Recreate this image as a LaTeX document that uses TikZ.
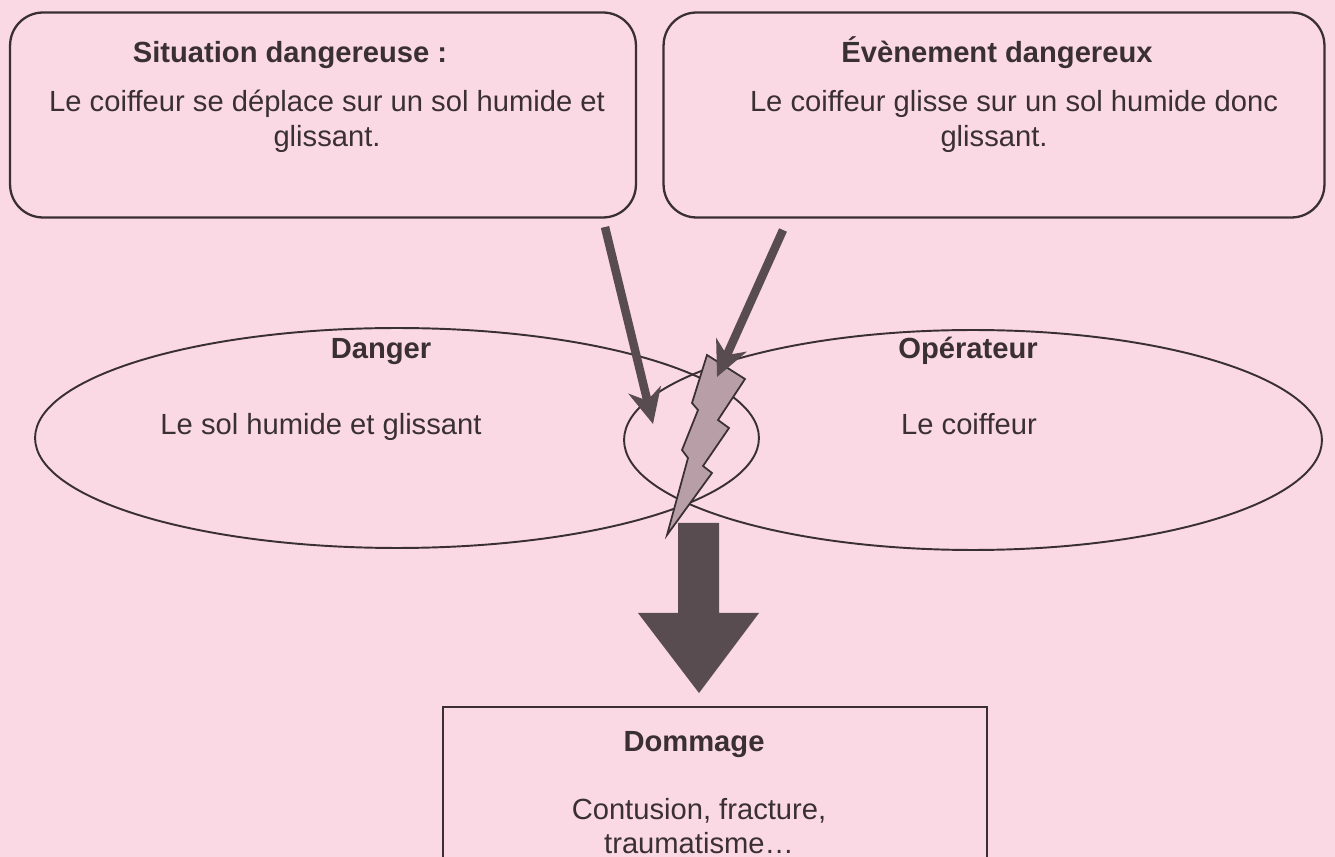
\documentclass[tikz,border=0pt]{standalone}
\usepackage{fontspec}
\setmainfont{Liberation Sans}
\usetikzlibrary{shapes.geometric, arrows.meta, positioning}

\definecolor{pinkbg}{RGB}{250,217,228}
\definecolor{inkdark}{RGB}{58,48,52}
\definecolor{arrowgrey}{RGB}{89,76,80}
\definecolor{boltfill}{RGB}{184,158,167}

\begin{document}
\begin{tikzpicture}[
    x=0.02cm, y=-0.02cm,
    every node/.style={text=inkdark, font=\fontsize{16.6}{19.9}\selectfont},
    infobox/.style={rectangle, draw=inkdark, line width=1.3pt, rounded corners=0.66cm, minimum width=12.52cm, minimum height=4.1cm},
    field/.style={ellipse, draw=inkdark, line width=1.1pt, inner sep=0pt, minimum height=4.4cm},
    heading/.style={font=\bfseries\fontsize{16.6}{19.9}\selectfont, anchor=base},
    lineof/.style={anchor=base},
    bodytext/.style={align=center},
    hitarrow/.style={draw=arrowgrey, line width=0.17cm, -{Stealth[length=0.7cm, width=0.66cm, inset=0.22cm]}}
]

\fill[pinkbg] (0,0) rectangle (1335,857);
\clip (0,0) rectangle (1335,857);

% top boxes
\node[infobox] (sitbox) at (323,115) {};
\node[infobox, minimum width=13.22cm] (evtbox) at (994,115) {};
\node[heading] (sittitle) at (290,63) {Situation dangereuse :};
\node[bodytext] (sittext) at (327,121) {Le coiffeur se déplace sur un sol humide et\\glissant.};
\node[heading] (evttitle) at (997,63) {Évènement dangereux};
\node[bodytext] (evttext) at (1014,121) {Le coiffeur glisse sur un sol humide donc\\\hspace*{-0.8cm}glissant.};

% danger and operator
\node[field, minimum width=14.48cm] (dangerell) at (397,438) {};
\node[field, minimum width=13.96cm] (operell) at (973,440) {};
\node[heading] (dangertitle) at (381,359) {Danger};
\node[lineof] (dangertext) at (321,435) {Le sol humide et glissant};
\node[heading] (opertitle) at (968,359) {Opérateur};
\node[lineof] (opertext) at (969,435) {Le coiffeur};

% lightning
\filldraw[fill=boltfill, draw=inkdark, line width=1pt, line join=miter]
  (707,355) -- (745,379) -- (718,420) -- (729,428) -- (703,466) -- (712,473)
  -- (667,535) -- (688,458) -- (682,450) -- (698,410) -- (692,403) -- cycle;

% arrows into the contact zone
\coordinate (sitfoot) at (605,227);
\coordinate (sithit) at (653,424);
\coordinate (evtfoot) at (783,230);
\coordinate (evthit) at (717,377);
\draw[hitarrow] (sitfoot) -- (sithit);
\draw[hitarrow] (evtfoot) -- (evthit);

% damage
\node[draw=inkdark, line width=1.3pt, minimum width=10.88cm, minimum height=4cm, anchor=north] (dommage) at (715,706) {};
\node[heading] (domtitle) at (694,751) {Dommage};
\node[lineof] (domtext) at (699,819) {Contusion, fracture,};
\node[lineof, inner sep=0pt] (domtext2) at (699,853) {traumatisme…};

\fill[arrowgrey] (678,523) -- (719,523) -- (719,613) -- (759,613) -- (699,693)
  -- (638,613) -- (678,613) -- cycle;

\end{tikzpicture}
\end{document}
